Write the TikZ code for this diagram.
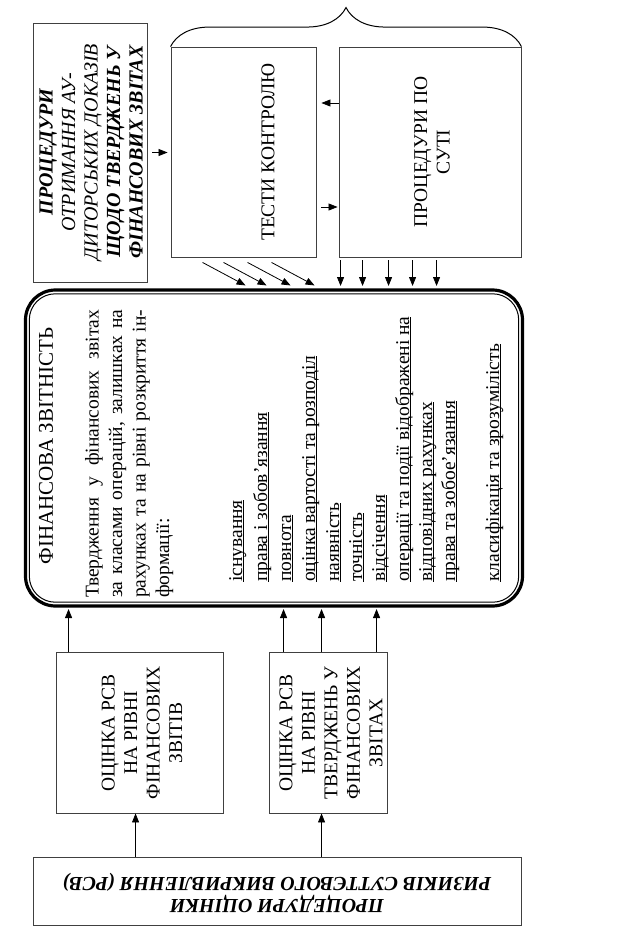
\documentclass[tikz,border=0pt]{standalone}
\usepackage{fontspec}
\setmainfont{Liberation Serif}
\usetikzlibrary{positioning,arrows.meta,calc}
\usetikzlibrary{decorations.pathreplacing}

\newcommand{\ulclaim}[1]{\underline{\smash{#1}}}

\tikzset{
  box/.style={draw=black!75, line width=0.9pt, inner sep=0pt},
  txt/.style={align=center, inner sep=0pt, font=\fontsize{19.5}{22.5}\selectfont},
  vtxt/.style={txt, rotate=90},
  bitxt/.style={font=\fontsize{20}{22.5}\selectfont\bfseries\itshape},
  claim/.style={rotate=90, inner sep=0pt, anchor=base west, font=\fontsize{19.5}{23.5}\selectfont},
  arr/.style={-{Triangle[length=9pt,width=7pt]}, line width=0.8pt},
}

\begin{document}
\begin{tikzpicture}[x=1pt, y=-1pt]
  \useasboundingbox (0,0) rectangle (620,935);

  % audit evidence procedures
  \node[box, minimum width=114pt, minimum height=259pt] (proc) at (90,152.5) {};
  \node[box, minimum width=145pt, minimum height=210pt] (tests) at (243.5,152) {};
  \node[box, minimum width=182pt, minimum height=210pt] (sut) at (430,152) {};

  \node[vtxt, bitxt] (procT) at (91,152)
    {ПРОЦЕДУРИ\\{\mdseries ОТРИМАННЯ АУ-}\\{\mdseries ДИТОРСЬКИХ ДОКАЗІВ}\\ЩОДО ТВЕРДЖЕНЬ У\\ФІНАНСОВИХ ЗВІТАХ};
  \node[vtxt] (testsT) at (268,152) {ТЕСТИ КОНТРОЛЮ};
  \node[vtxt] (sutT) at (432,152) {ПРОЦЕДУРИ ПО\\СУТІ};

  \draw[decorate, decoration={brace, amplitude=39pt}, line width=1pt]
    (tests.north west) -- (sut.north east);

  % financial statements
  \node[box, draw=black, line width=3.2pt, outer sep=0pt, rounded corners=30pt,
        minimum width=497pt, minimum height=316pt] (fin) at (274,448) {};
  \draw[line width=1pt, rounded corners=26pt]
    ($(fin.north west)+(3.8,3.8)$) rectangle ($(fin.south east)+(-3.8,-3.8)$);

  \node[vtxt, font=\fontsize{21}{24}\selectfont] (finT) at (46,446) {ФІНАНСОВА ЗВІТНІСТЬ};
  \node[vtxt, font=\fontsize{19.5}{23.5}\selectfont, text width=288pt, align=justify,
        anchor=north west] (finP) at (85,598)
    {Твердження у фінансових звітах\linebreak за класами операцій, залишках на\linebreak
     рахунках та на рівні розкриття ін-\linebreak формації:};

  \foreach \bx/\txt in {242/існування, 267/права і зобов’язання, 291/повнота,
      315/оцінка вартості та розподіл, 339/наявність, 362/точність, 385/відсічення,
      409/операції та події відображені на, 432/відповідних рахунках,
      455/права та зобое’язання, 499/класифікація та зрозумілість}
    \node[claim] at (\bx,582) {\ulclaim{\txt}};

  % risk assessment
  \node[box, minimum width=167pt, minimum height=161pt] (rsv1) at (139.5,732.5) {};
  \node[box, minimum width=118pt, minimum height=161pt] (rsv2) at (328,732.5) {};
  \node[box, minimum width=488pt, minimum height=68pt] (risk) at (277,891) {};

  \node[vtxt] (rsv1T) at (142,733) {ОЦІНКА РСВ\\НА РІВНІ\\ФІНАНСОВИХ\\ЗВІТІВ};
  \node[vtxt] (rsv2T) at (331,733) {ОЦІНКА РСВ\\НА РІВНІ\\ТВЕРДЖЕНЬ У\\ФІНАНСОВИХ\\ЗВІТАХ};
  \node[txt, rotate=180, bitxt] (riskT) at (277,893)
    {ПРОЦЕДУРИ ОЦІНКИ\\РИЗИКІВ СУТТЄВОГО ВИКРИВЛЕННЯ (РСВ)};

  % arrows
  \draw[arr, shorten <=5pt, shorten >=3pt] (proc.east) -- (proc.east -| tests.west);
  \draw[arr, shorten >=5pt] ($(sut.west)+(0,-49)$) -- ($(tests.east)+(0,-49)$);
  \draw[arr, shorten <=5pt, shorten >=1pt] ($(tests.east)+(0,55)$) -- ($(sut.west)+(0,55)$);

  \foreach \d in {32,53,77,101}
    \draw[arr] ($(tests.south west)+(\d,5)$) -- ++(43,23);
  \foreach \d in {2,24,50,74,98}
    \draw[arr, shorten >=4pt] ($(sut.south west)+(\d,3)$) coordinate (s) -- (s |- fin.north);

  \draw[arr, shorten >=3pt] ($(rsv1.north west)+(13,0)$) coordinate (s) -- (s |- fin.south);
  \foreach \d in {15,53,108}
    \draw[arr, shorten >=3pt] ($(rsv2.north west)+(\d,0)$) coordinate (s) -- (s |- fin.south);

  \coordinate (u1) at ($(rsv1.south west)+(80,0)$);
  \coordinate (u2) at ($(rsv2.south west)+(53,0)$);
  \draw[arr] (u1 |- risk.north) -- (u1);
  \draw[arr] (u2 |- risk.north) -- (u2);
\end{tikzpicture}
\end{document}
